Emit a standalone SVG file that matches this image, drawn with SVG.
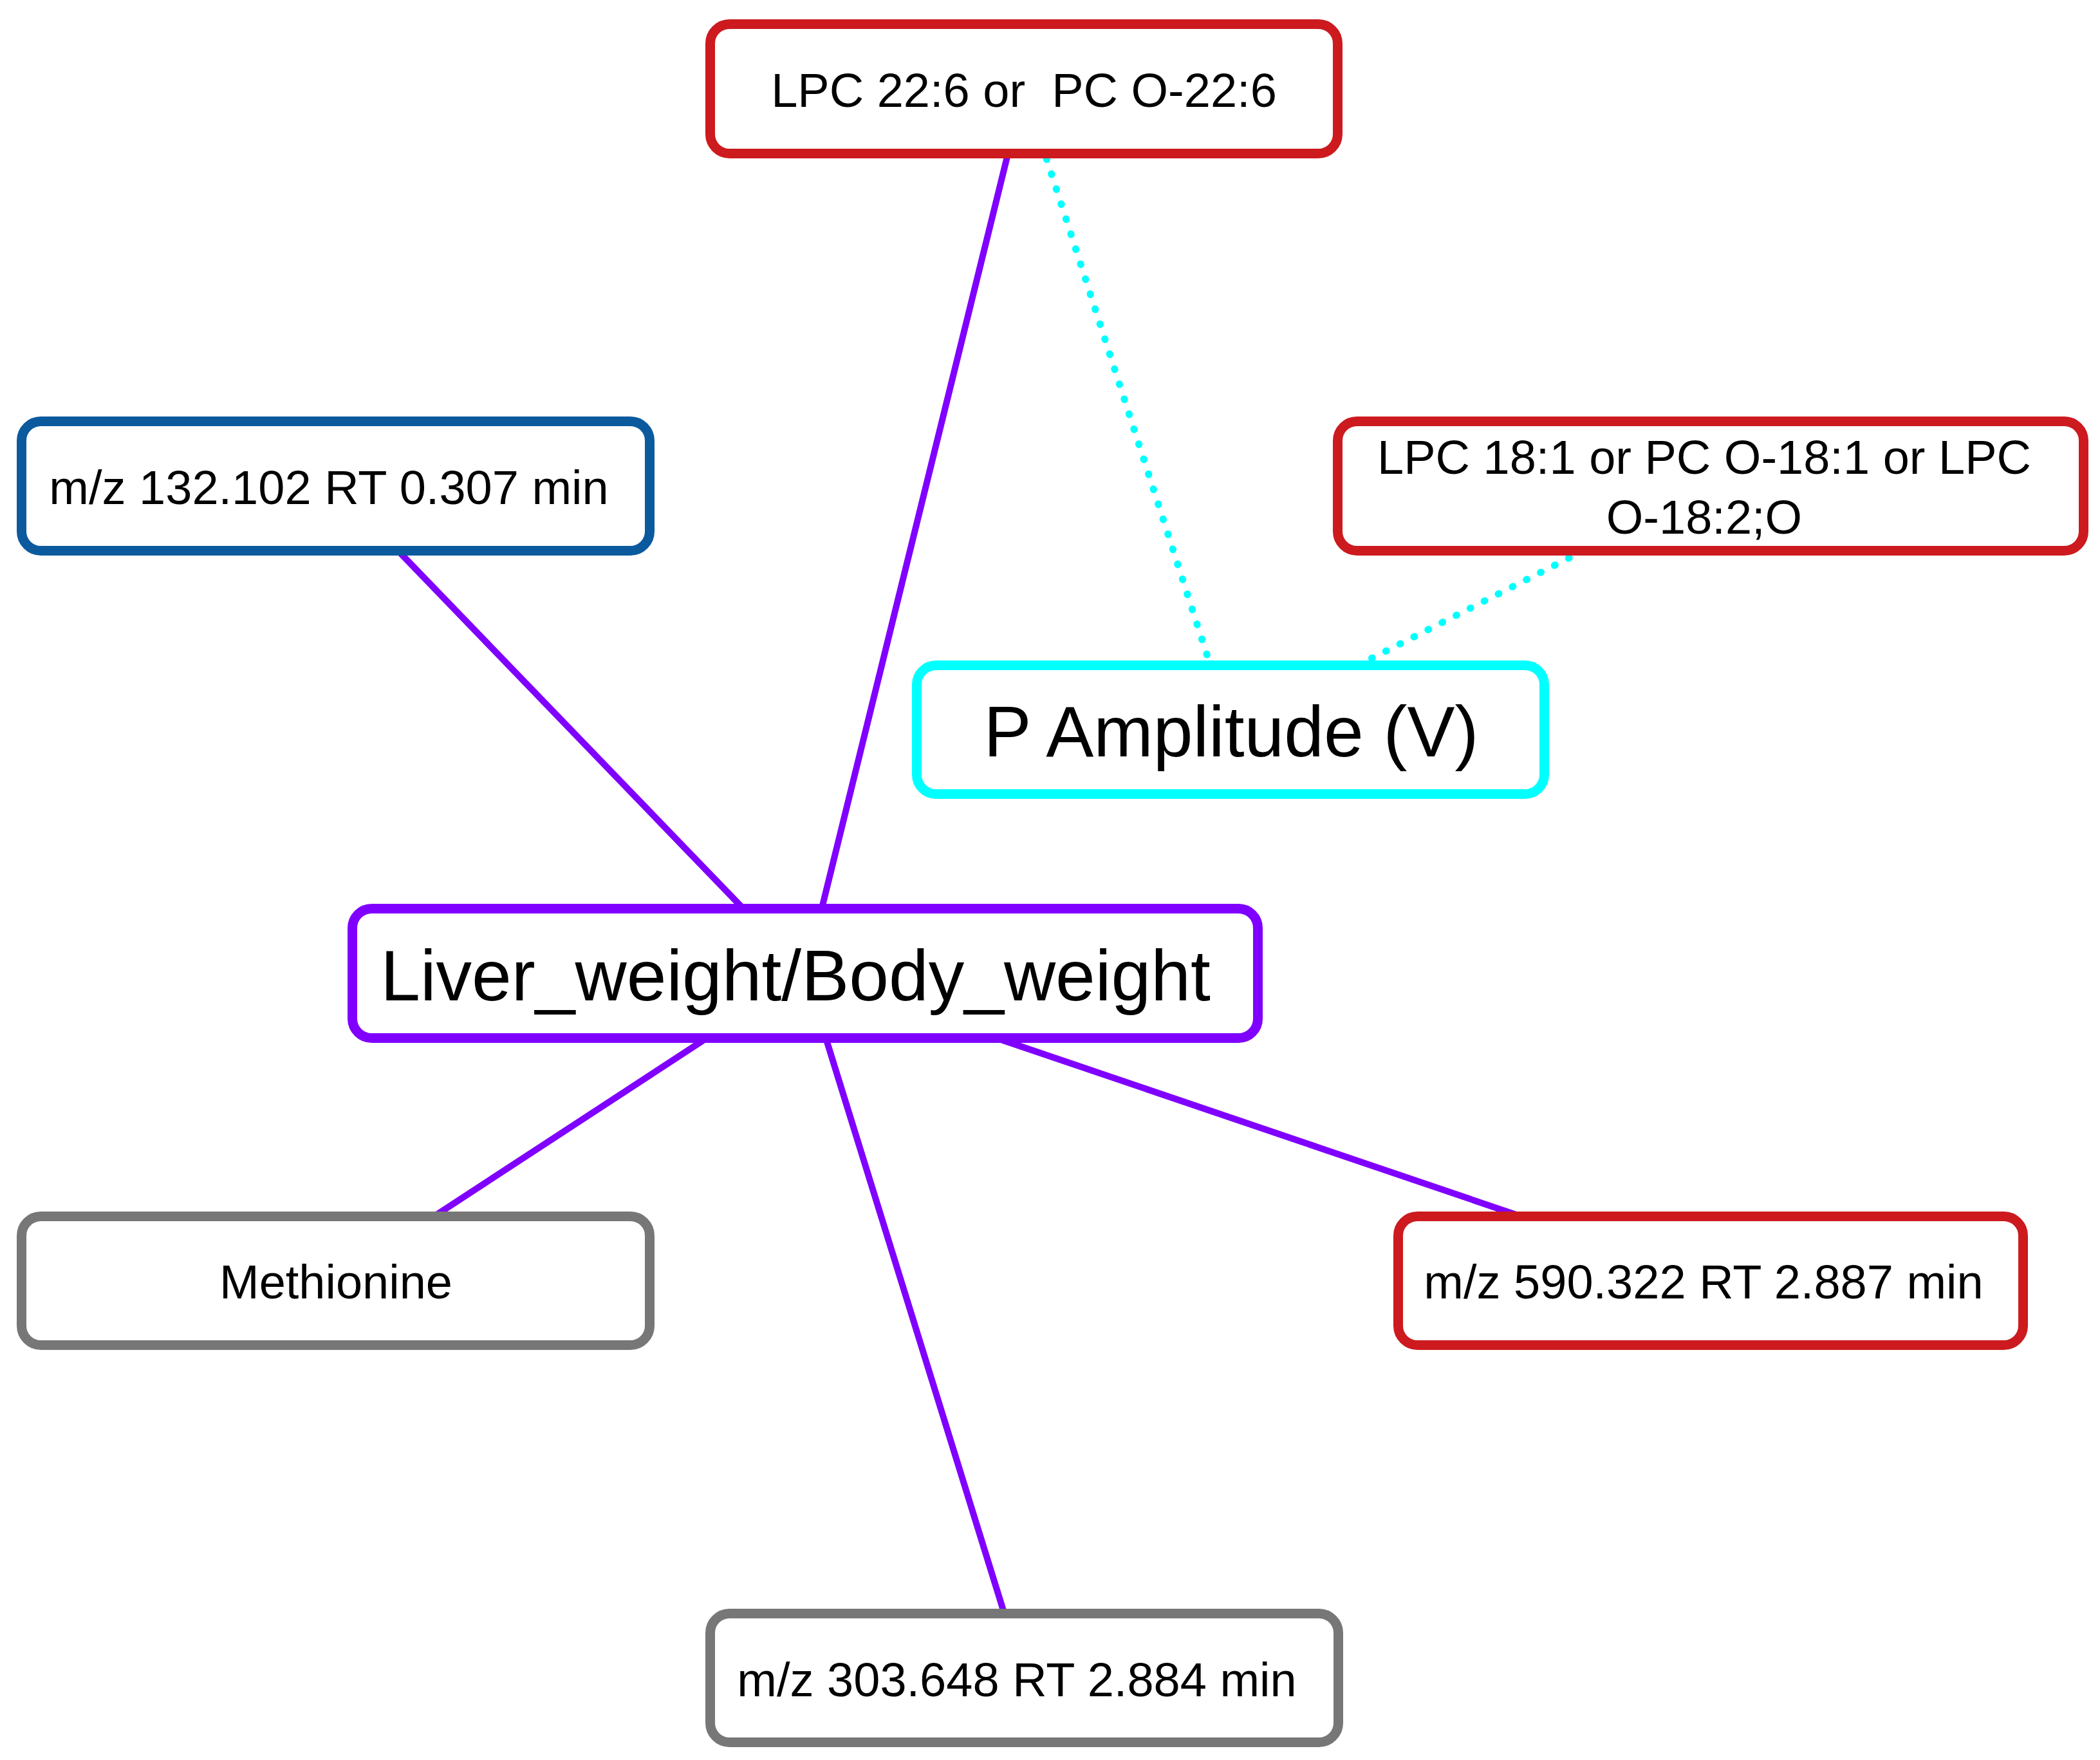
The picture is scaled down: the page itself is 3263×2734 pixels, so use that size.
<svg xmlns="http://www.w3.org/2000/svg" width="3263" height="2734" viewBox="0 0 3263 2734">
<style>
.node rect{fill:#ffffff;stroke-width:15}
.red rect{stroke:#CC1A1F}
.blue rect{stroke:#0B5A9E}
.gray rect{stroke:#777777}
.violet rect{stroke:#8000FF}
.cyan rect{stroke:#00FFFF}
.node text{font-family:"Liberation Sans",Arial,sans-serif;font-size:74px;fill:#000000;text-anchor:middle}
.node text.big{font-size:111px}
.edge{fill:none;stroke-linecap:round}
.solid{stroke:#8000FF;stroke-width:10}
.dot{stroke:#00FFFF;stroke-width:11;stroke-dasharray:1 23.5}
</style>
<rect width="3263" height="2734" fill="#ffffff"/>
<g id="edges">
<line class="edge solid" x1="1252" y1="1512" x2="1591" y2="138"/>
<line class="edge solid" x1="1252" y1="1512" x2="521.5" y2="755"/>
<line class="edge solid" x1="1252" y1="1512" x2="521.5" y2="1989.5"/>
<line class="edge solid" x1="1252" y1="1512" x2="2658" y2="1989.5"/>
<line class="edge solid" x1="1252" y1="1512" x2="1591.5" y2="2606.5"/>
<line class="edge dot" x1="1913" y1="1133.5" x2="1591" y2="138"/>
<line class="edge dot" x1="1913" y1="1133.5" x2="2658" y2="755"/>
</g>
<g id="node-lpc226" class="node red">
<rect x="1103.5" y="37.5" width="975" height="201" rx="30" ry="30"/>
<text x="1591" y="166" xml:space="preserve">LPC 22:6 or  PC O-22:6</text>
</g>
<g id="node-mz132" class="node blue">
<rect x="33.5" y="654.5" width="976" height="201" rx="30" ry="30"/>
<text x="511" y="783">m/z 132.102 RT 0.307 min</text>
</g>
<g id="node-lpc181" class="node red">
<rect x="2078.5" y="654.5" width="1159" height="201" rx="30" ry="30"/>
<text x="2648" y="736">LPC 18:1 or PC O-18:1 or LPC</text>
<text x="2648" y="829">O-18:2;O</text>
</g>
<g id="node-pamp" class="node cyan">
<rect x="1424.5" y="1033.5" width="975" height="200" rx="30" ry="30"/>
<text class="big" x="1913" y="1175">P Amplitude (V)</text>
</g>
<g id="node-liver" class="node violet">
<rect x="547.5" y="1411.5" width="1407" height="201" rx="30" ry="30"/>
<text class="big" x="1236" y="1554">Liver_weight/Body_weight</text>
</g>
<g id="node-methionine" class="node gray">
<rect x="33.5" y="1889.5" width="976" height="200" rx="30" ry="30"/>
<text x="522" y="2017">Methionine</text>
</g>
<g id="node-mz590" class="node red">
<rect x="2172.5" y="1889.5" width="971" height="200" rx="30" ry="30"/>
<text x="2647" y="2017">m/z 590.322 RT 2.887 min</text>
</g>
<g id="node-mz303" class="node gray">
<rect x="1103.5" y="2506.5" width="976" height="200" rx="30" ry="30"/>
<text x="1580" y="2635">m/z 303.648 RT 2.884 min</text>
</g>
</svg>
